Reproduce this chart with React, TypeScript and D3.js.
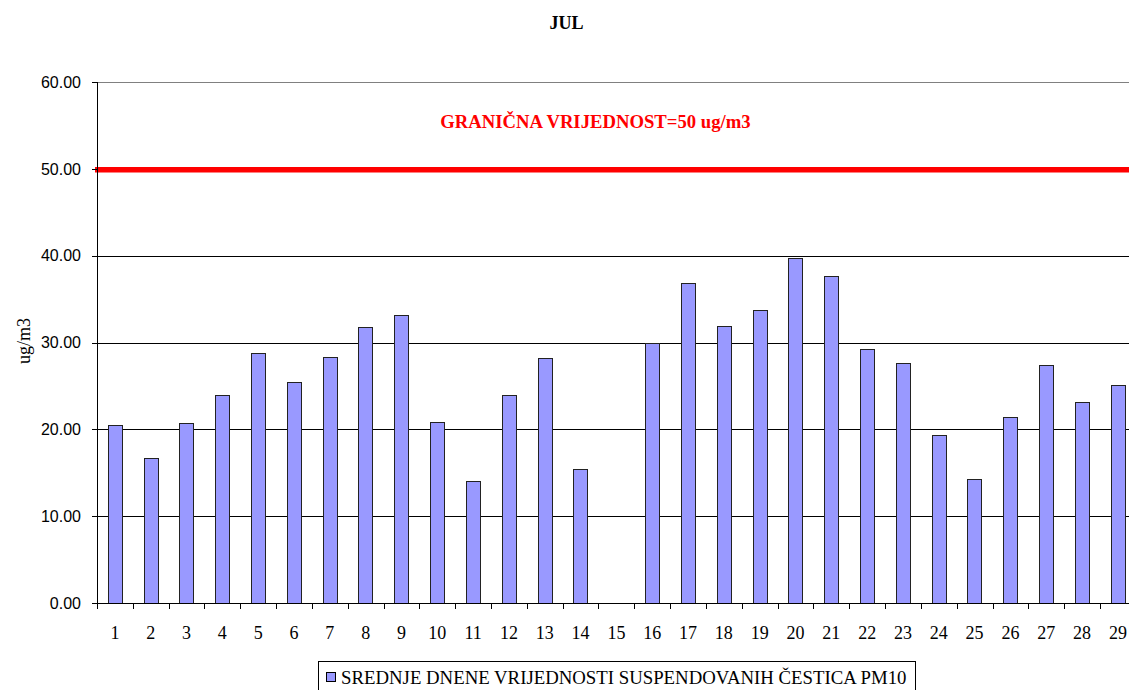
import React from "react";
import * as d3 from "d3";

const days: string[] = Array.from({ length: 29 }, (_, i) => String(i + 1));
const pm10: (number | null)[] = [
  20.5, 16.7, 20.7, 23.9, 28.8, 25.5, 28.3, 31.8, 33.2, 20.8,
  14.1, 23.9, 28.2, 15.4, null, 29.9, 36.9, 31.9, 33.8, 39.7,
  37.7, 29.3, 27.6, 19.4, 14.3, 21.4, 27.4, 23.1, 25.1,
];
const yTicks: number[] = [0, 10, 20, 30, 40, 50, 60];
const gridValues: number[] = [10, 20, 30, 40];
const limitValue = 50;
const title = "JUL";
const limitLabel = "GRANIČNA VRIJEDNOST=50 ug/m3";
const yAxisLabel = "ug/m3";
const legendLabel = "SREDNJE DNENE VRIJEDNOSTI SUSPENDOVANIH ČESTICA PM10";

const W = 1129;
const H = 690;
const left = 97;
const top = 82;
const bottom = 603;
const right = 1135.8;

export default function App() {
  const x = d3.scaleBand<string>().domain(days).range([left, right]).paddingInner(0).paddingOuter(0);
  const y = d3.scaleLinear().domain([0, 60]).range([bottom, top]);
  const bw = x.bandwidth() * 0.4;
  const serif = "'Liberation Serif', 'Times New Roman', serif";
  const sans = "'Liberation Sans', Arial, sans-serif";
  const boundaries = days.map((d) => x(d) as number);

  return (
    <div style={{ position: "absolute", left: 0, top: 0, width: W, height: H, overflow: "hidden", background: "#fff" }}>
      <svg width={W} height={H} style={{ display: "block" }}>
        <rect x={0} y={0} width={W} height={H} fill="#fff" />
        {/* title */}
        <text x={566.5} y={29} textAnchor="middle" fontFamily={serif} fontWeight="bold" fontSize={18} fill="#000">
          {title}
        </text>
        {/* top border */}
        <line x1={left} x2={W} y1={Math.round(y(60)) + 0.5} y2={Math.round(y(60)) + 0.5} stroke="#808080" strokeWidth={1} />
        {/* gridlines */}
        {gridValues.map((v) => (
          <line key={v} x1={left} x2={W} y1={Math.round(y(v)) + 0.5} y2={Math.round(y(v)) + 0.5} stroke="#000" strokeWidth={1} />
        ))}
        {/* bars */}
        {pm10.map((v, i) =>
          v == null ? null : (
            <rect
              key={i}
              x={Math.round((x(days[i]) as number) + (x.bandwidth() - bw) / 2) + 0.5}
              y={Math.round(y(v)) + 0.5}
              width={Math.round(bw)}
              height={Math.round(y(0)) - Math.round(y(v))}
              fill="#9999FF"
              stroke="#222"
              strokeWidth={1}
            />
          )
        )}
        {/* limit line */}
        <line x1={left - 2} x2={W} y1={y(limitValue) + 1} y2={y(limitValue) + 1} stroke="#FF0000" strokeWidth={5.5} />
        <text x={595.5} y={128} textAnchor="middle" fontFamily={serif} fontWeight="bold" fontSize={18.7} fill="#FF0000">
          {limitLabel}
        </text>
        {/* y axis */}
        <line x1={left + 0.5} x2={left + 0.5} y1={Math.round(y(60))} y2={bottom + 1} stroke="#000" />
        {yTicks.map((t) => (
          <g key={t}>
            <line x1={left - 5} x2={left} y1={Math.round(y(t)) + 0.5} y2={Math.round(y(t)) + 0.5} stroke="#000" />
            <text x={81} y={y(t)} dy="0.36em" textAnchor="end" fontFamily={sans} fontSize={16} fill="#000">
              {t.toFixed(2)}
            </text>
          </g>
        ))}
        <text
          transform={`translate(30, ${341}) rotate(-90)`}
          textAnchor="middle"
          fontFamily={serif}
          fontSize={18}
          fill="#000"
        >
          {yAxisLabel}
        </text>
        {/* x axis */}
        <line x1={left} x2={W} y1={bottom + 0.5} y2={bottom + 0.5} stroke="#000" />
        {boundaries.map((b, i) => (
          <line key={i} x1={Math.round(b) + 0.5} x2={Math.round(b) + 0.5} y1={bottom} y2={bottom + 6} stroke="#000" />
        ))}
        {days.map((d) => (
          <text key={d} x={(x(d) as number) + x.bandwidth() / 2} y={639} textAnchor="middle" fontFamily={serif} fontSize={18} fill="#000">
            {d}
          </text>
        ))}
        {/* legend */}
        <rect x={318.5} y={661.5} width={597} height={40} fill="#fff" stroke="#000" strokeWidth={1} />
        <rect x={326.5} y={672.5} width={9} height={9} fill="#9999FF" stroke="#000" strokeWidth={1} />
        <text x={341} y={684} fontFamily={serif} fontSize={18.8} fill="#000">
          {legendLabel}
        </text>
      </svg>
    </div>
  );
}
